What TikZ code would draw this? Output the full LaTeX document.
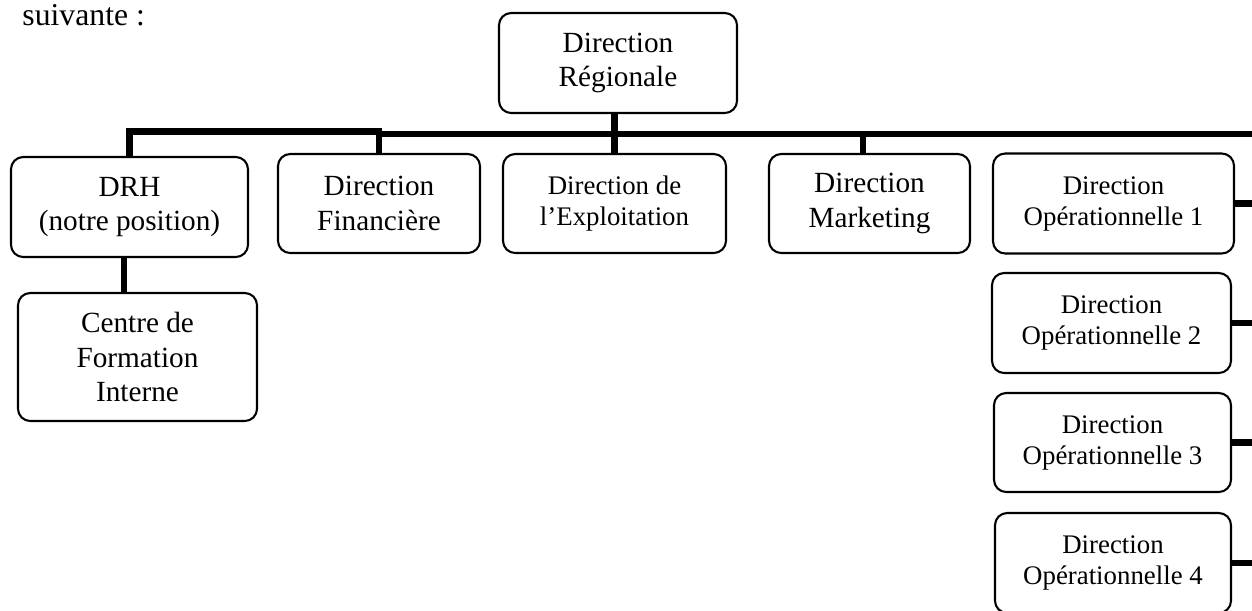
\documentclass[tikz,border=0pt]{standalone}
\usepackage{fontspec}
\setmainfont{Liberation Serif}
\usetikzlibrary{calc}
% one drawing unit
\def\pxu{0.41pt}
\begin{document}
\begin{tikzpicture}[x=0.41pt,y=-0.41pt,
  orgbox/.style={draw, line width=0.85pt, rounded corners=5pt, align=center,
    inner sep=0pt, outer sep=0pt},
  bigtext/.style={font=\fontsize{12}{14}\selectfont},
  smalltext/.style={font=\fontsize{11}{12.7}\selectfont},
  link/.style={line width=2.6pt}]
\useasboundingbox (0,0) rectangle (1252,610);

\node[anchor=base west, inner sep=0pt, font=\fontsize{13}{15}\selectfont] (intro) at (22,25) {suivante :};

% head of the organisation
\node[orgbox, bigtext, minimum width=238*\pxu, minimum height=100*\pxu] (dr) at (618,63) {Direction\\Régionale};

% first row of directions
\node[orgbox, bigtext, minimum width=237*\pxu, minimum height=100*\pxu] (drh) at (129.5,207) {DRH\\(notre position)};
\node[orgbox, bigtext, minimum width=202*\pxu, minimum height=99*\pxu] (fin) at (379,203.5) {Direction\\Financière};
\node[orgbox, smalltext, minimum width=223*\pxu, minimum height=99*\pxu] (exp) at (614.5,203.5) {Direction de\\l’Exploitation};
\node[orgbox, bigtext, minimum width=201*\pxu, minimum height=99*\pxu] (mkt) at (869.5,203.5) {Direction\\Marketing};

% operational directions
\node[orgbox, smalltext, minimum width=241*\pxu, minimum height=100*\pxu] (op1) at (1113.5,203.5) {Direction\\Opérationnelle 1};
\node[orgbox, smalltext, minimum width=239*\pxu, minimum height=100*\pxu] (op2) at (1111.5,323) {Direction\\Opérationnelle 2};
\node[orgbox, smalltext, minimum width=237*\pxu, minimum height=99*\pxu] (op3) at (1112.5,442.5) {Direction\\Opérationnelle 3};
\node[orgbox, smalltext, minimum width=236*\pxu, minimum height=100*\pxu] (op4) at (1113,563) {Direction\\Opérationnelle 4};

% under the DRH
\node[orgbox, bigtext, minimum width=239*\pxu, minimum height=128*\pxu] (cfi) at (137.5,357) {Centre de\\Formation\\Interne};

% connectors
\coordinate (bus) at (0,134);
\coordinate (lbus) at (0,131.5);
\coordinate (rbus) at (1256,0);
\coordinate (mk) at (863,0);
\coordinate (sub) at (124,0);

\draw[link] (exp.north) -- (exp.north |- dr.south);
\draw[link] (drh.north) -- (drh.north |- lbus) -| (fin.north);
\draw[link] (fin.north |- bus) -- (rbus |- bus) -- (rbus |- op4.east);
\draw[link] (mkt.north -| mk) -- (bus -| mk);
\draw[link] (drh.south -| sub) -- (cfi.north -| sub);
\foreach \n in {op1,op2,op3,op4}
  \draw[link] (\n.east) -- (\n.east -| rbus);
\end{tikzpicture}
\end{document}
